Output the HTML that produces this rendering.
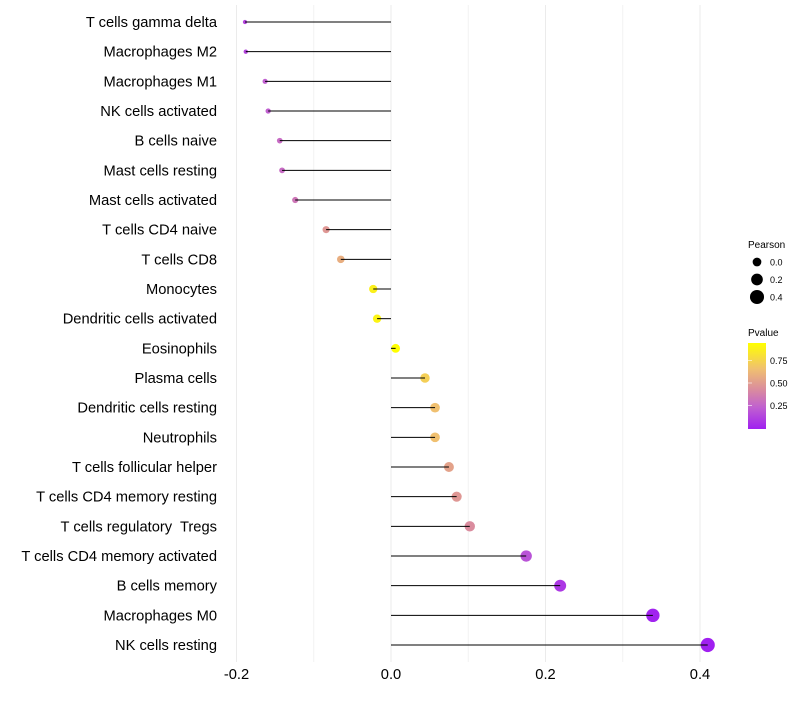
<!DOCTYPE html>
<html><head><meta charset="utf-8"><style>
body{margin:0;background:#fff;}
svg text{font-family:"Liberation Sans",sans-serif;white-space:pre;}
</style></head><body>
<svg id="chart" width="800" height="700" xmlns="http://www.w3.org/2000/svg">
<g id="grid"></g>
<g id="ylab"></g>
<g id="marks"></g>
<g id="xlab"></g>
<g id="sizeLeg">
<text x="748" y="248" font-size="10" fill="#000">Pearson</text>
</g>
<g>
<text x="748" y="336" font-size="10" fill="#000">Pvalue</text>
<defs><linearGradient id="pg" x1="0" y1="1" x2="0" y2="0">
<stop offset="0" stop-color="#a020f0"/><stop offset="0.25" stop-color="#c060d0"/><stop offset="0.45" stop-color="#d98aa0"/><stop offset="0.7" stop-color="#f0c070"/><stop offset="1" stop-color="#ffff00"/></linearGradient></defs>
<rect x="748" y="343" width="18" height="86" fill="url(#pg)"/>
<g id="cbTicks"></g>
</g>
</svg>
<script>
const categories=["T cells gamma delta","Macrophages M2","Macrophages M1","NK cells activated","B cells naive","Mast cells resting","Mast cells activated","T cells CD4 naive","T cells CD8","Monocytes","Dendritic cells activated","Eosinophils","Plasma cells","Dendritic cells resting","Neutrophils","T cells follicular helper","T cells CD4 memory resting","T cells regulatory  Tregs","T cells CD4 memory activated","B cells memory","Macrophages M0","NK cells resting"];
const pearson=[-0.189,-0.188,-0.163,-0.159,-0.144,-0.141,-0.124,-0.084,-0.065,-0.023,-0.018,0.006,0.044,0.057,0.057,0.075,0.085,0.102,0.175,0.219,0.339,0.410];
const pvalue=[0.15,0.15,0.25,0.25,0.3,0.3,0.35,0.5,0.6,0.9,0.92,0.97,0.75,0.68,0.68,0.55,0.5,0.45,0.2,0.1,0.02,0.01];
const xTicks=[-0.2,0.0,0.2,0.4];
const xMinor=[-0.1,0.1,0.3];
const sizeLegend=[0.0,0.2,0.4];
const pTicks=[0.25,0.50,0.75];

const NS="http://www.w3.org/2000/svg";
const x=v=>391+v*772.5;
const y=i=>22+i*29.667;
const rad=v=>Math.sqrt(Math.max(2.5,19+76*v));
const stops=[[0,[160,32,240]],[0.25,[192,96,208]],[0.45,[217,138,160]],[0.7,[240,192,112]],[1,[255,255,0]]];
function col(p){p=Math.max(0,Math.min(1,(p-0.01)/0.96));for(let k=1;k<stops.length;k++){if(p<=stops[k][0]){const a=stops[k-1],b=stops[k],t=(p-a[0])/(b[0]-a[0]);return "rgb("+a[1].map((c,j)=>Math.round(c+(b[1][j]-c)*t)).join(",")+")";}}return "rgb(255,255,0)";}
function mk(tag,at,parent){const e=document.createElementNS(NS,tag);for(const k in at)e.setAttribute(k,at[k]);parent.appendChild(e);return e;}
const grid=document.getElementById('grid'),marks=document.getElementById('marks'),ylab=document.getElementById('ylab'),xlab=document.getElementById('xlab');
xMinor.forEach(v=>{const l=mk('line',{x1:x(v),x2:x(v),y1:5,y2:662,stroke:'#f2f2f2','stroke-width':1},grid);

});
xTicks.forEach(v=>{const l=mk('line',{x1:x(v),x2:x(v),y1:5,y2:662,stroke:'#ebebeb','stroke-width':1},grid);


const t=mk('text',{x:x(v),y:679,'font-size':14.7,'text-anchor':'middle',fill:'#000'},xlab);t.textContent=v.toFixed(1);

});
categories.forEach((c,i)=>{
const t=mk('text',{x:217,y:y(i)+5,'font-size':14.7,'text-anchor':'end',fill:'#000'},ylab);t.textContent=c;


const d=mk('circle',{cx:x(pearson[i]),cy:y(i),r:rad(pearson[i]),fill:col(pvalue[i])},marks);


const l=mk('line',{x1:x(0),x2:x(pearson[i]),y1:y(i),y2:y(i),stroke:'#000','stroke-width':1},marks);


});
const sl=document.getElementById('sizeLeg');
sizeLegend.forEach((v,k)=>{const cy=262+k*17.5;
const c=mk('circle',{cx:757,cy:cy,r:rad(v),fill:'#000'},sl);


const t=mk('text',{x:770,y:cy+3.5,'font-size':9,fill:'#000'},sl);t.textContent=v.toFixed(1);

});
const cb=document.getElementById('cbTicks');
pTicks.forEach(v=>{const yy=428-v*90;
const l=mk('line',{x1:748,x2:752,y1:yy,y2:yy,stroke:'#fff','stroke-width':0.6},cb);


const t=mk('text',{x:770,y:yy+3.5,'font-size':9,fill:'#000'},cb);t.textContent=v.toFixed(2);

});
</script>
</body></html>
